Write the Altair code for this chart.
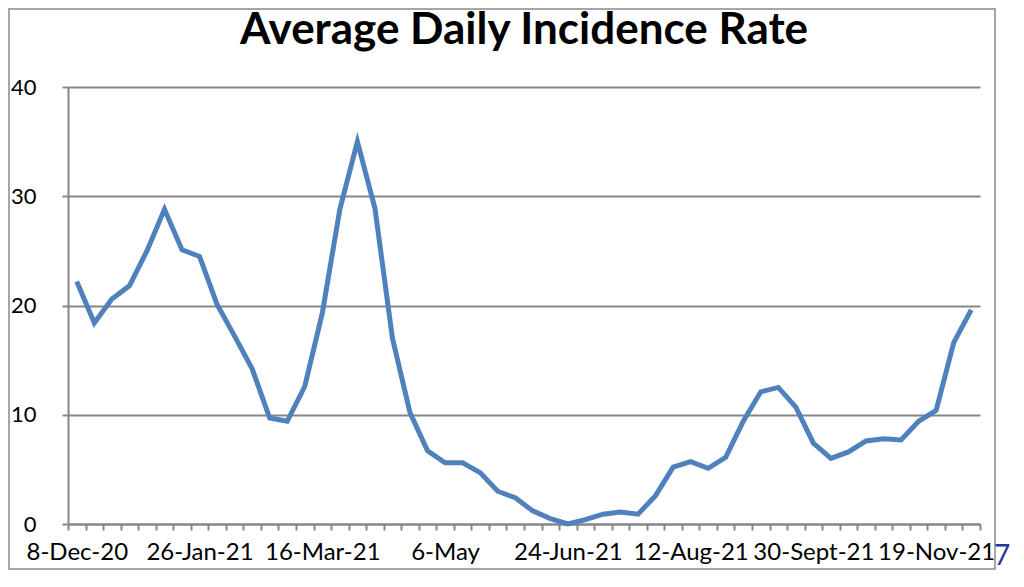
import json
import altair as alt
import pandas as pd

# Weekly average daily incidence rate (52 weeks, Dec 2020 - Nov 2021)
values = [22.2, 18.4, 20.6, 21.8, 25.0, 28.8, 25.1, 24.5, 20.1, 17.2,
          14.2, 9.7, 9.4, 12.6, 19.3, 28.8, 35.0, 28.9, 17.0, 10.2,
          6.7, 5.6, 5.6, 4.7, 3.0, 2.4, 1.2, 0.5, 0.0, 0.4,
          0.9, 1.1, 0.9, 2.6, 5.2, 5.7, 5.1, 6.1, 9.4, 12.1,
          12.5, 10.7, 7.4, 6.0, 6.6, 7.6, 7.8, 7.7, 9.4, 10.4,
          16.6, 19.6]
weeks = list(range(len(values)))
tick_labels = ["8-Dec-20", "26-Jan-21", "16-Mar-21", "6-May", "24-Jun-21",
               "12-Aug-21", "30-Sept-21", "19-Nov-21"]
label_every = 7
y_ticks = [0, 10, 20, 30, 40]
title_text = "Average Daily Incidence Rate"

df = pd.DataFrame({"week": weeks, "rate": values})

GRAY = "#868686"
FONT = "Lato"

label_expr = (f"datum.value % {label_every} == 0 ? "
              f"{json.dumps(tick_labels)}[datum.value / {label_every}] : ''")

line = alt.Chart(df).mark_line(color="#4f81bd", strokeWidth=5, strokeJoin="miter").encode(
    x=alt.X("week:O",
            scale=alt.Scale(type="band", paddingInner=0, paddingOuter=0),
            bandPosition=0.5,
            axis=alt.Axis(title=None, tickBand="extent", labelExpr=label_expr,
                          labelAngle=0, labelOverlap=False, labelFont=FONT,
                          labelFontSize=24, labelColor="black", labelPadding=10,
                          domainColor=GRAY, domainWidth=2, tickColor=GRAY,
                          tickWidth=2, tickSize=6, grid=False)),
    y=alt.Y("rate:Q",
            scale=alt.Scale(domain=[0, 40], nice=False),
            axis=alt.Axis(title=None, values=y_ticks, grid=True, gridColor=GRAY,
                          gridWidth=2, gridOpacity=1, domainColor=GRAY, domainWidth=2,
                          tickColor=GRAY, tickWidth=2, tickSize=6,
                          labelFont=FONT, labelFontSize=22, labelColor="black",
                          labelPadding=26)),
)

frame = alt.Chart(alt.Data(values=[{}])).mark_rect(
    fill=None, stroke="#a6a6a6", strokeWidth=2
).encode(
    x=alt.value(-59), x2=alt.value(927),
    y=alt.value(-78), y2=alt.value(482),
)

title = alt.Chart(alt.Data(values=[{}])).mark_text(
    text=title_text, font=FONT, fontSize=44, fontWeight="bold", color="black",
    align="center", baseline="alphabetic"
).encode(x=alt.value(456), y=alt.value(-43))

page_no = alt.Chart(alt.Data(values=[{}])).mark_text(
    text="7", font=FONT, fontSize=28, color="#1f3a93", align="left", baseline="alphabetic"
).encode(x=alt.value(926), y=alt.value(478))

chart = alt.layer(frame, line, title, page_no).properties(
    width=912, height=437,
    padding={"left": 60, "top": 79, "right": 36, "bottom": 55},
    autosize=alt.AutoSizeParams(type="none"),
).configure_view(stroke=None)

chart.save("out.html", embed_options={"renderer": "svg", "actions": False})
